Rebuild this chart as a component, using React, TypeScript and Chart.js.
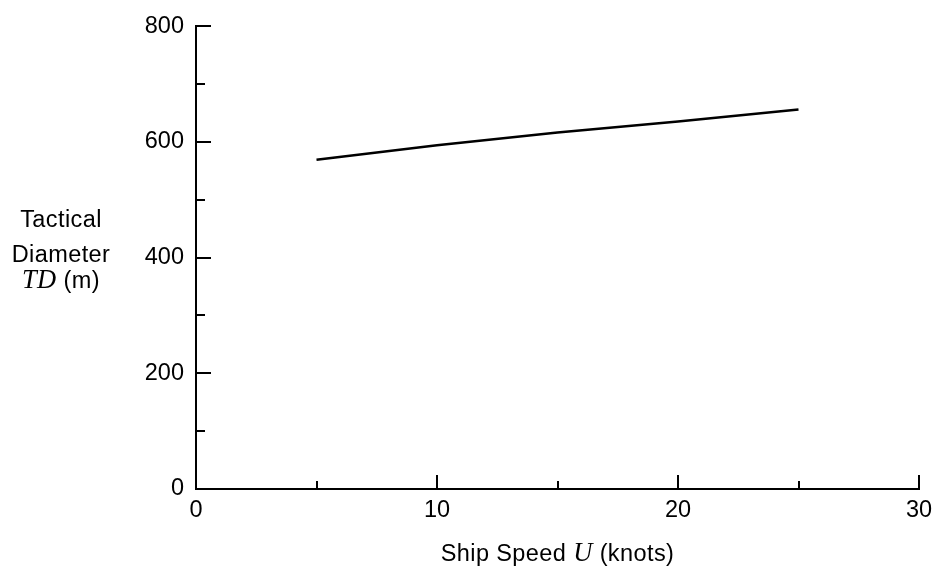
import React, { useEffect, useRef } from "react";
import { Chart, registerables } from "chart.js";

Chart.register(...registerables);

// ---- data ----
const speeds = [5, 10, 15, 20, 25];
const diameters = [569, 594, 616, 635, 656];

const xMajorTicks = [0, 10, 20, 30];
const xMinorTicks = [5, 15, 25];
const yMajorTicks = [0, 200, 400, 600, 800];
const yMinorTicks = [100, 300, 500, 700];

const xTitleParts = ["Ship Speed ", "U", " (knots)"];
const yTitleLines = ["Tactical", "Diameter"];
const yTitleLast = ["TD", " (m)"];

const SANS = "'Liberation Sans', Arial, sans-serif";
const SERIF = "'Liberation Serif', 'Times New Roman', serif";
const FONT_SIZE = 23.5;

const axesPlugin = {
  id: "axesPlugin",
  afterDraw(chart: any) {
    const ctx: CanvasRenderingContext2D = chart.ctx;
    const xs = chart.scales.x;
    const ys = chart.scales.y;
    const { left, right, top, bottom } = chart.chartArea;
    ctx.save();
    ctx.strokeStyle = "#000";
    ctx.lineWidth = 2;
    ctx.lineCap = "butt";
    ctx.beginPath();
    ctx.moveTo(left, top - 1);
    ctx.lineTo(left, bottom);
    ctx.moveTo(left - 1, bottom);
    ctx.lineTo(right + 1, bottom);
    for (const v of xMajorTicks) {
      const px = Math.round(xs.getPixelForValue(v));
      ctx.moveTo(px, bottom);
      ctx.lineTo(px, bottom - 14);
    }
    for (const v of xMinorTicks) {
      const px = Math.round(xs.getPixelForValue(v));
      ctx.moveTo(px, bottom);
      ctx.lineTo(px, bottom - 8);
    }
    for (const v of yMajorTicks) {
      const py = Math.round(ys.getPixelForValue(v));
      ctx.moveTo(left, py);
      ctx.lineTo(left + 15, py);
    }
    for (const v of yMinorTicks) {
      const py = Math.round(ys.getPixelForValue(v));
      ctx.moveTo(left, py);
      ctx.lineTo(left + 9, py);
    }
    ctx.stroke();

    // titles
    ctx.fillStyle = "#000";
    ctx.textBaseline = "alphabetic";
    const sansFont = `${FONT_SIZE}px ${SANS}`;
    const serifFont = `italic ${FONT_SIZE + 3}px ${SERIF}`;
    (ctx as any).letterSpacing = "0.4px";

    const drawMixed = (parts: string[], fonts: string[], cx: number, baseY: number) => {
      const widths = parts.map((p, i) => {
        ctx.font = fonts[i];
        return ctx.measureText(p).width;
      });
      const total = widths.reduce((a, b) => a + b, 0);
      let x = cx - total / 2;
      ctx.textAlign = "left";
      parts.forEach((p, i) => {
        ctx.font = fonts[i];
        ctx.fillText(p, x, baseY);
        x += widths[i];
      });
    };

    const xCenter = (left + right) / 2;
    drawMixed(xTitleParts, [sansFont, serifFont, sansFont], xCenter, 561);

    const yCx = 61;
    const baselines = [227, 262];
    yTitleLines.forEach((t, i) => drawMixed([t], [sansFont], yCx, baselines[i]));
    drawMixed(yTitleLast, [serifFont, sansFont], yCx, 288);

    ctx.restore();
  },
};

export default function App() {
  const canvasRef = useRef<HTMLCanvasElement | null>(null);

  useEffect(() => {
    const canvas = canvasRef.current;
    if (!canvas) return;
    const chart = new Chart(canvas, {
      type: "line",
      data: {
        datasets: [
          {
            data: speeds.map((s, i) => ({ x: s, y: diameters[i] })),
            borderColor: "#000",
            borderWidth: 2.5,
            pointRadius: 0,
            tension: 0,
            fill: false,
          },
        ],
      },
      options: {
        responsive: false,
        animation: false,
        devicePixelRatio: 1,
        layout: { padding: { top: 21, right: 24, left: 0, bottom: 0 } },
        plugins: {
          legend: { display: false },
          tooltip: { enabled: false },
          title: { display: false },
        },
        scales: {
          x: {
            type: "linear",
            min: 0,
            max: 30,
            grid: { display: false, drawTicks: false },
            border: { display: false },
            ticks: {
              stepSize: 10,
              color: "#000",
              padding: 7,
              maxRotation: 0,
              font: { family: SANS, size: FONT_SIZE },
            },
            afterFit: (scale: any) => {
              scale.height = 85;
            },
          },
          y: {
            type: "linear",
            min: 0,
            max: 800,
            grid: { display: false, drawTicks: false },
            border: { display: false },
            ticks: {
              stepSize: 200,
              color: "#000",
              padding: 12,
              font: { family: SANS, size: FONT_SIZE },
            },
            afterFit: (scale: any) => {
              scale.width = 196;
            },
          },
        },
      },
      plugins: [axesPlugin],
    } as any);
    return () => chart.destroy();
  }, []);

  return (
    <div style={{ position: "fixed", left: 0, top: 0, width: 943, height: 574, background: "#fff" }}>
      <canvas ref={canvasRef} width={943} height={574} style={{ display: "block" }} />
    </div>
  );
}
